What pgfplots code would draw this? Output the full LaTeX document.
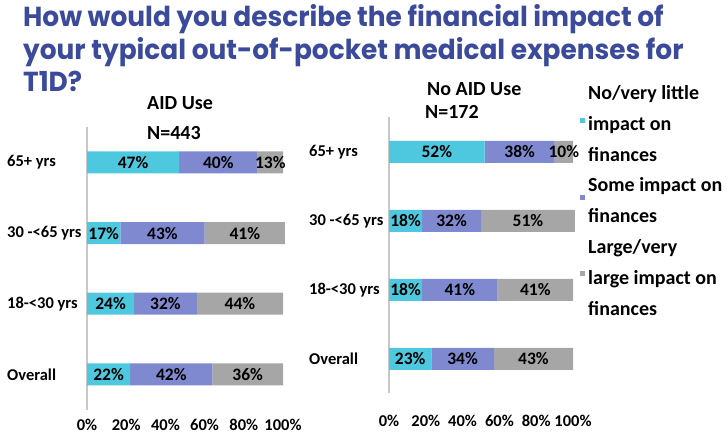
\documentclass[border=0pt]{standalone}
\usepackage{pgfplots}
\pgfplotsset{compat=1.18}
\usepackage{fontspec}
\setmainfont{Carlito}
\newfontfamily\titlefont{Poppins}[FakeStretch=0.96]

\definecolor{titleblue}{HTML}{3B4A9B}
\definecolor{cyanbar}{HTML}{4DC8DE}
\definecolor{bluebar}{HTML}{7F89CF}
\definecolor{graybar}{HTML}{A6A6A6}
\definecolor{axgray}{HTML}{C8C8C8}

\pgfplotsset{
  panel/.style={
    xbar stacked, scale only axis, bar width=22pt, clip=false,
    xmin=0, xmax=100, ymin=-0.5, ymax=3.5,
    ytick={0,1,2,3},
    yticklabels={Overall,18-<30 yrs,30 -<65 yrs,65+ yrs},
    xtick={0,20,...,100},
    xticklabel={\pgfmathprintnumber{\tick}\%},
    /pgf/number format/assume math mode=true,
    axis lines=left, axis line style={-},
    x axis line style={draw=none},
    y axis line style={draw=axgray, line width=1.5pt},
    major tick length=0pt,
    tick label style={font=\fontsize{16.5}{19}\selectfont\bfseries, inner sep=0pt},
    yticklabel style={anchor=west, xshift=-80pt},
    point meta=rawx,
    nodes near coords={\pgfmathprintnumber{\pgfplotspointmeta}\%},
    nodes near coords align={anchor=center},
    every node near coord/.append style={
      font=\fontsize{17.5}{20}\selectfont\bfseries, text=black, inner sep=0pt,
      anchor=center,
    },
  },
}

\begin{document}
\begin{tikzpicture}
\useasboundingbox (0,0) rectangle (727pt,435pt);

\node[anchor=base west, align=left, inner sep=0pt, text=titleblue,
  font=\fontsize{27.5}{32.5}\selectfont\titlefont\bfseries] at (23pt,343pt)
  {How would you describe the financial impact of\\your typical out-of-pocket medical expenses for\\T1D?};

\begin{scope}[every node/.style={anchor=west, inner sep=0pt, font=\fontsize{20}{24}\selectfont\bfseries}]
\node at (147pt,332pt) {AID Use};
\node at (147pt,302pt) {N=443};
\node at (427pt,346pt) {No AID Use};
\node at (425pt,323pt) {N=172};
\end{scope}

% AID use
\begin{axis}[panel, at={(87pt,25.2pt)}, anchor=south west,
  width=196pt, height=282.8pt,
  xticklabel style={anchor=center, yshift=-15.2pt}]
\addplot[fill=cyanbar, draw=none] coordinates {(47,3) (17,2) (24,1) (22,0)};
\addplot[fill=bluebar, draw=none] coordinates {(40,3) (43,2) (32,1) (42,0)};
\addplot[fill=graybar, draw=none] coordinates {(13,3) (41,2) (44,1) (36,0)};
\end{axis}

% No AID use
\begin{axis}[panel, at={(389pt,41.5pt)}, anchor=south west,
  width=184pt, height=276pt,
  xticklabel style={anchor=center, yshift=-27.5pt},
  legend style={at={(1.038,1.144)}, anchor=north west, draw=none, fill=none,
    inner sep=0pt, column sep=3pt, row sep=7pt,
    nodes={inner sep=0pt, align=left, font=\fontsize{20}{31}\selectfont\bfseries}},
  legend cell align=left,
  legend image code/.code={\path[#1,draw=none] (0pt,-2.5pt) rectangle (5pt,2.5pt);}]
\addplot[fill=cyanbar, draw=none] coordinates {(52,3) (18,2) (18,1) (23,0)};
\addlegendentry{\strut No/very little\\\strut impact on\\\strut finances}
\addplot[fill=bluebar, draw=none] coordinates {(38,3) (32,2) (41,1) (34,0)};
\addlegendentry{\strut Some impact on\\\strut finances}
\addplot[fill=graybar, draw=none] coordinates {(10,3) (51,2) (41,1) (43,0)};
\addlegendentry{\strut Large/very\\\strut large impact on\\\strut finances}
\end{axis}
\end{tikzpicture}
\end{document}
